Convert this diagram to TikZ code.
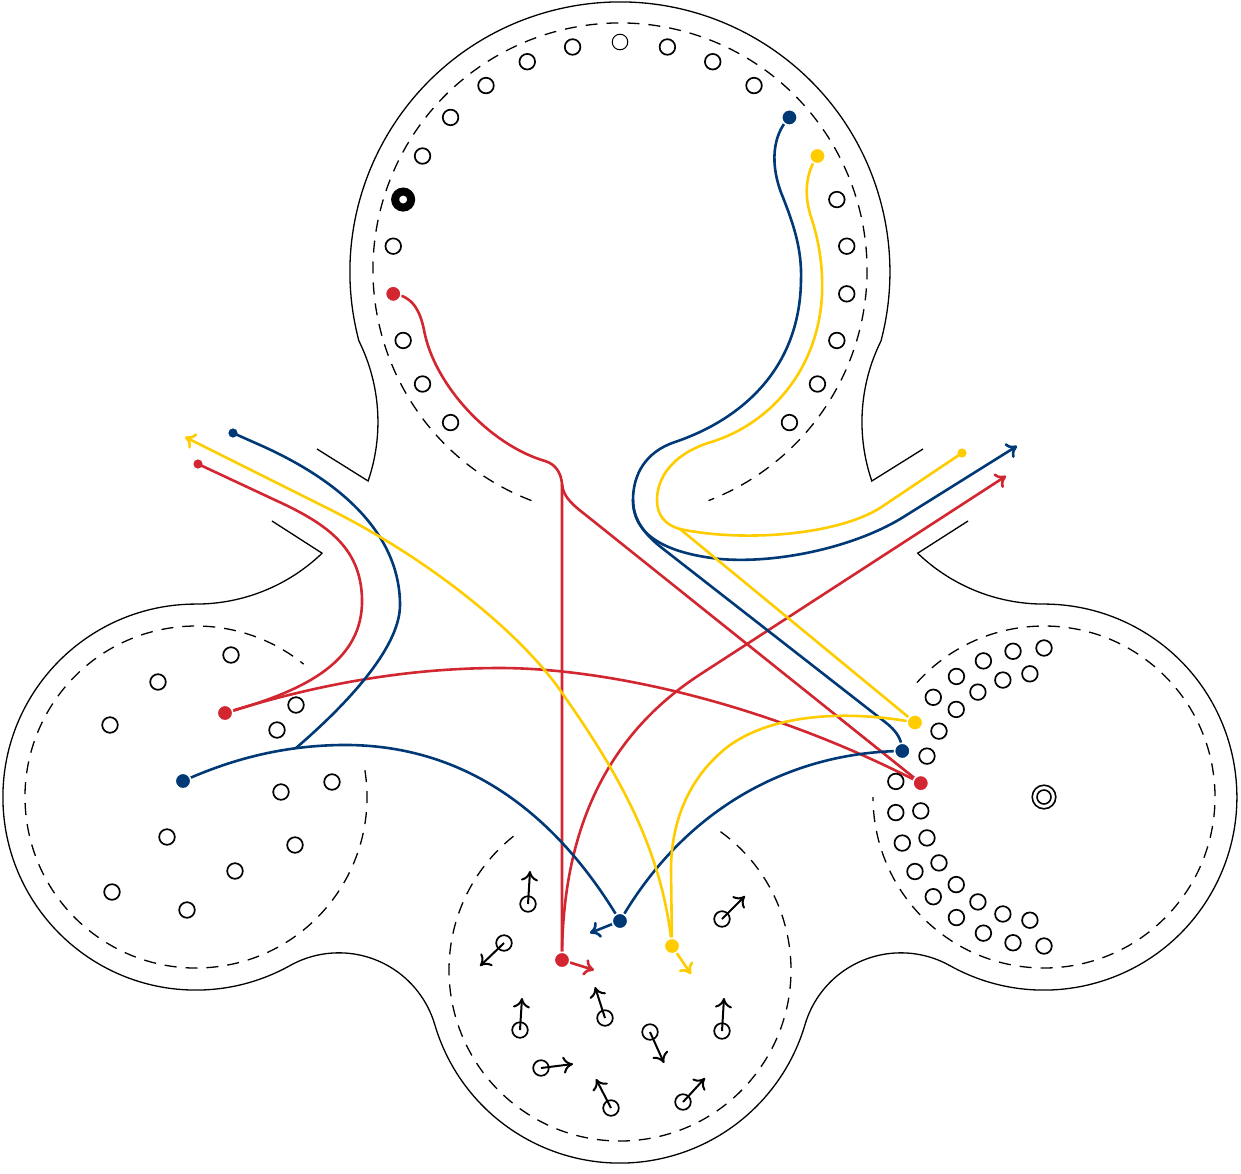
\documentclass[tikz,border=0pt]{standalone}
\usetikzlibrary{arrows.meta}
\definecolor{cR}{RGB}{210,38,48}
\definecolor{cB}{RGB}{0,57,118}
\definecolor{cY}{RGB}{255,204,0}
\pgfdeclarelayer{bg}
\pgfsetlayers{bg,main}
\begin{document}
\begin{tikzpicture}[x=0.5pt,y=-0.5pt,
 outl/.style={line width=0.65pt},
 dring/.style={line width=0.65pt,dash pattern=on 6pt off 4.5pt},
 hole/.style={circle,draw,fill=white,line width=0.85pt,minimum size=7.8pt,inner sep=0pt},
 thinhole/.style={hole,line width=0.5pt},
 cdot/.style={circle,fill=#1,draw=white,line width=0.8pt,minimum size=7.8pt,inner sep=0pt},
 edot/.style={circle,fill=#1,minimum size=4.6pt,inner sep=0pt},
 trk/.style={line width=1.3pt,draw=#1},
 arr/.style={-{To[length=5pt,width=8.5pt]}},
 spin/.style={line width=1pt,-{To[length=5pt,width=8.5pt]}},
]
\useasboundingbox (0,0) rectangle (1241,1173);

% outline
\draw[outl] (317,449) -- (368.1,481) arc[start angle=18.93,end angle=-26.42,radius=182]
  arc[start angle=165.19,end angle=374.81,radius=270]
  arc[start angle=206.42,end angle=161.07,radius=182] -- (923,449);
\draw[outl] (272,521) -- (322.1,553.2) arc[start angle=46.1,end angle=90,radius=182]
  arc[start angle=270,end angle=60.8,radius=193]
  arc[start angle=240.8,end angle=343.59,radius=100]
  arc[start angle=163.59,end angle=16.41,radius=193]
  arc[start angle=196.41,end angle=299.2,radius=100]
  arc[start angle=119.2,end angle=-90,radius=193]
  arc[start angle=90,end angle=133.9,radius=182] -- (968,521);

% dashed rings
\draw[dring] (620,270) ++(111:247) arc[start angle=111,end angle=429,radius=247];
\draw[dring] (196,797) ++(-9:171) arc[start angle=-9,end angle=309,radius=171];
\draw[dring] (1044,797) ++(222:171) arc[start angle=222,end angle=540,radius=171];
\draw[dring] (620,970) ++(306:171) arc[start angle=306,end angle=594,radius=171];

% top ring
\foreach \a [count=\i] in {-132,-120,-108,-84,-60,-48,-36,-24,-12,12,24,36,72,84,96,108,120,132}
  \node[hole] (t\i) at ({620+228*sin(\a)},{270-228*cos(\a)}) {};
\node[thinhole] (ttop) at (620,42) {};
\node[circle,draw,line width=4pt,minimum size=8pt,inner sep=0pt] (tk) at ({620+228*sin(-72)},{270-228*cos(-72)}) {};

% left lobe
\foreach \p [count=\i] in {(231,655),(158,682),(110,725),(296,705),(277,730),(332,782),(281,792),(167,837),(295,845),(235,871),(112,892),(187,910)}
  \node[hole] (l\i) at \p {};

% right lobe
\foreach \k in {0,1,2,3,4,5,6,7,8,11,12,13,14,15}
  \node[hole] (ro\k) at ({1044+149*cos(90+12*\k)},{797+149*sin(90+12*\k)}) {};
\foreach \a [count=\i] in {199.26,212.1,224.94,237.78,250.62,263.46,173.58,160.74,147.9,135.06,122.22,109.38,96.54}
  \node[hole] (ri\i) at ({1044+124*cos(\a)},{797+124*sin(\a)}) {};
\node[circle,draw,line width=0.8pt,minimum size=11.8pt,inner sep=0pt] (rc) at (1044,797) {};
\node[circle,draw,line width=0.8pt,minimum size=7pt,inner sep=0pt] (rci) at (1044,797) {};

% bottom lobe spins
\foreach \x/\y/\u/\v [count=\i] in {528/904/530/871,504/943/480/966,520/1030/522/998,605/1018/595/987,650/1032/664/1063,541/1068/573/1064,611/1108/596/1079,683/1102/705/1078,722/919/745/896,722/1031/724/998}
{
  \node[hole] (s\i) at (\x,\y) {};
  \coordinate (st\i) at (\u,\v);
  \draw[spin] (s\i.center) -- (st\i);
}

% coloured dots
\node[cdot=cR] (dRt) at ({620+228*sin(-96)},{270-228*cos(-96)}) {};
\node[cdot=cB] (dBt) at ({620+228*sin(48)},{270-228*cos(48)}) {};
\node[cdot=cY] (dYt) at ({620+228*sin(60)},{270-228*cos(60)}) {};
\node[cdot=cR] (dRl) at (225,713) {};
\node[cdot=cB] (dBl) at (183,781) {};
\node[cdot=cR] (dRr) at ({1044+124*cos(186.42)},{797+124*sin(186.42)}) {};
\node[cdot=cB] (dBr) at ({1044+149*cos(198)},{797+149*sin(198)}) {};
\node[cdot=cY] (dYr) at ({1044+149*cos(210)},{797+149*sin(210)}) {};
\node[cdot=cR] (dRb) at (562,960) {};
\node[cdot=cB] (dBb) at (620,921) {};
\node[cdot=cY] (dYb) at (672,946) {};
\node[edot=cR] (eR) at (198,464) {};
\node[edot=cB] (eB) at (233,433) {};
\node[edot=cY] (eY) at (962,453) {};

\coordinate (rfork) at (562,484);
\coordinate (bfork) at (633,500);
\coordinate (yfork) at (680,529);
\coordinate (bjoin) at (296,748);
\coordinate (aY) at (185,437);
\coordinate (aB) at (1017,446);
\coordinate (aR) at (1006,476);
\coordinate (aBb) at (590,933);
\coordinate (aRb) at (594,970);
\coordinate (aYb) at (691,974);

\begin{pgfonlayer}{bg}
% red
\draw[trk=cR] (dRt.center) .. controls (412,296) and (420,310) .. (424,330)
  .. controls (434,385) and (490,445) .. (545,461)
  .. controls (555,464) and (561,472) .. (rfork) -- (dRb.center);
\draw[trk=cR] (rfork) .. controls (563,498) and (575,506.5) .. (587,516) -- (dRr.center);
\draw[trk=cR] (dRl.center) .. controls (330,680) and (420,668) .. (500,668)
  .. controls (600,668) and (760,700) .. (dRr.center);
\draw[trk=cR] (dRl.center) .. controls (300,692) and (360,665) .. (362,604)
  .. controls (363,550) and (330,525) .. (275,500) -- (eR.center);
\draw[trk=cR,arr] (dRb.center) .. controls (562,840) and (600,739.5) .. (700,674.5) -- (aR);
\draw[trk=cR,arr] (dRb.center) -- (aRb);
% blue
\draw[trk=cB] (dBt.center) .. controls (772,135) and (770,165) .. (782,195)
  .. controls (794,225) and (802,250) .. (801,280)
  .. controls (800,370) and (740,420) .. (675,442)
  .. controls (645,452) and (633,475) .. (bfork)
  .. controls (633,522) and (648,537) .. (662,548) -- (885,722)
  .. controls (897,731) and (902,740) .. (dBr.center);
\draw[trk=cB,arr] (bfork) .. controls (633,535) and (665,553) .. (720,559)
  .. controls (780,564) and (858,546) .. (905,516) -- (aB);
\draw[trk=cB] (dBr.center) .. controls (800,752) and (690,800) .. (dBb.center);
\draw[trk=cB] (dBl.center) .. controls (230,760) and (280,746) .. (340,745)
  .. controls (470,743) and (560,820) .. (dBb.center);
\draw[trk=cB] (eB.center) -- (260,445) .. controls (350,485) and (400,540) .. (400,605)
  .. controls (400,645) and (353,699) .. (bjoin);
\draw[trk=cB,arr] (dBb.center) -- (aBb);
% yellow
\draw[trk=cY] (dYt.center) .. controls (806,172) and (803,195) .. (812,220)
  .. controls (820,245) and (823,270) .. (822,295)
  .. controls (818,370) and (770,425) .. (708,443)
  .. controls (672,455) and (657,478) .. (657,500)
  .. controls (657,515) and (665,525) .. (yfork) -- (dYr.center);
\draw[trk=cY] (yfork) .. controls (740,542) and (835,536) .. (880,508) -- (eY.center);
\draw[trk=cY] (dYr.center) .. controls (860,712) and (780,710) .. (730,745)
  .. controls (690,775) and (671,820) .. (671,870) -- (dYb.center);
\draw[trk=cY,arr] (dYb.center) .. controls (662,850) and (620,775) .. (560,690)
  .. controls (520,633) and (430,559.5) .. (330,509.5) -- (aY);
\draw[trk=cY,arr] (dYb.center) -- (aYb);
\end{pgfonlayer}
\end{tikzpicture}
\end{document}
